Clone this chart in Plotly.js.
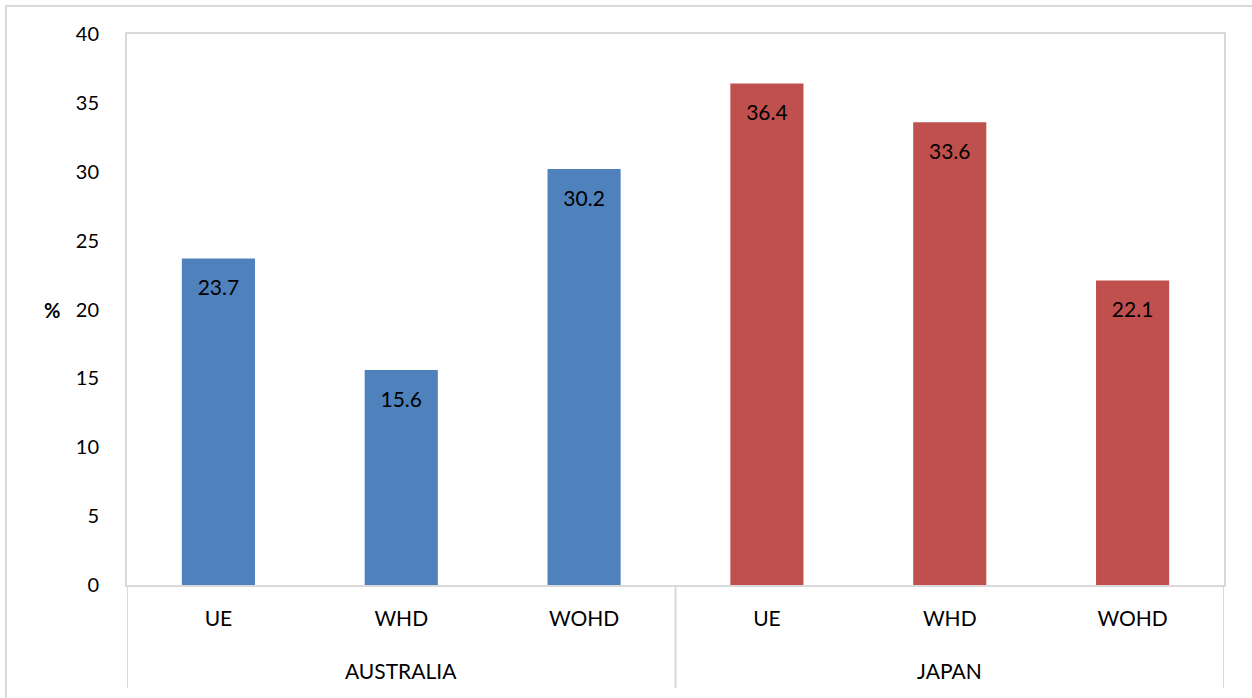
<!DOCTYPE html>
<html>
<head>
<meta charset="utf-8">
<script src="https://cdn.plot.ly/plotly-3.0.1.min.js"></script>
<style>
  html, body { margin: 0; padding: 0; background: #fff; }
  #frame { position: absolute; left: 5px; top: 5px; width: 1260px; height: 720px;
           border: 2px solid #d9d9d9; box-sizing: border-box; pointer-events: none; }
  #chart { position: absolute; left: 0; top: 0; width: 1252px; height: 698px; }
</style>
</head>
<body>
<div id="chart"></div>
<div id="frame"></div>
<script>
// Share of respondents (%) by group and country
const measures = ['UE', 'WHD', 'WOHD'];
const countries = ['AUSTRALIA', 'JAPAN'];
const valuesAustralia = [23.7, 15.6, 30.2];
const valuesJapan = [36.4, 33.6, 22.1];
const yTicks = [0, 5, 10, 15, 20, 25, 30, 35, 40];

const font = 'Lato, "Open Sans", sans-serif';
const nM = measures.length;
// bar slots: one per (country, measure) pair, left to right
const xA = measures.map((_, i) => i);
const xB = measures.map((_, i) => nM + i);
const slotVals = xA.concat(xB);
const slotText = measures.concat(measures);

function barTrace(x, y, color) {
  return { type: 'bar', x: x, y: y, width: 0.4, marker: { color: color },
           hoverinfo: 'y', showlegend: false };
}
function labelTrace(x, y) {
  return {
    type: 'scatter', mode: 'markers+text', x: x, y: y,
    text: y.map(v => v.toFixed(1)), textposition: 'bottom center',
    textfont: { family: font, size: 21, color: '#000' },
    marker: { size: 32, opacity: 0 }, hoverinfo: 'skip', showlegend: false, cliponaxis: false
  };
}

const data = [
  barTrace(xA, valuesAustralia, '#4F81BD'),
  barTrace(xB, valuesJapan, '#C0504D'),
  labelTrace(xA, valuesAustralia),
  labelTrace(xB, valuesJapan)
];

// group captions and separators beneath the category axis
const groupCenters = countries.map((_, g) => g * nM + (nM - 1) / 2);
const dividerX = [-0.5, nM - 0.5, 2 * nM - 0.5];

const layout = {
  width: 1252, height: 698,
  margin: { l: 127, r: 28, t: 34, b: 113 },
  paper_bgcolor: '#fff', plot_bgcolor: '#fff',
  barmode: 'overlay',
  font: { family: font, size: 20, color: '#000' },
  xaxis: {
    range: [-0.5, 2 * nM - 0.5], tickvals: slotVals, ticktext: slotText,
    showline: true, linecolor: '#d9d9d9', linewidth: 2, mirror: true,
    showgrid: false, zeroline: false, ticks: '', ticklabelstandoff: 14,
    tickfont: { family: font, size: 21, color: '#000' }
  },
  yaxis: {
    range: [0, 40], tickvals: yTicks, ticktext: yTicks.map(String),
    showline: true, linecolor: '#d9d9d9', linewidth: 2, mirror: true,
    showgrid: false, zeroline: false, ticks: '', ticklabelstandoff: 22,
    tickfont: { family: font, size: 20, color: '#000' }
  },
  shapes: dividerX.map(x => ({
    type: 'line', xref: 'x', yref: 'paper', x0: x, x1: x, y0: 0, y1: -0.187,
    line: { color: '#d9d9d9', width: 2 }
  })),
  annotations: countries.map((c, g) => ({
    text: c, xref: 'x', yref: 'paper', x: groupCenters[g], y: -0.155,
    xanchor: 'center', yanchor: 'middle', showarrow: false,
    font: { family: font, size: 21, color: '#000' }
  })).concat([{
    text: '<b>%</b>', xref: 'paper', yref: 'paper', x: -0.068, y: 0.5,
    xanchor: 'center', yanchor: 'middle', showarrow: false,
    font: { family: font, size: 20, color: '#000' }
  }])
};

Plotly.newPlot('chart', data, layout, { displayModeBar: false, staticPlot: true });
</script>
</body>
</html>
